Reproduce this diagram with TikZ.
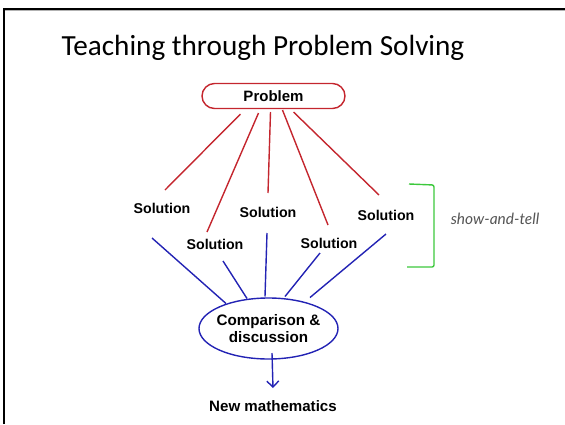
\documentclass[tikz,border=0pt]{standalone}
\usepackage{fontspec}
\setmainfont{Liberation Sans}
\newfontfamily\titlefont{Carlito}
\newfontfamily\notefont{Lato}
\usetikzlibrary{shapes.misc,shapes.geometric,calc,arrows.meta}
\definecolor{probred}{HTML}{C4262E}
\definecolor{lineblue}{HTML}{2323B4}
\definecolor{brgreen}{HTML}{3CC83C}
\definecolor{notegray}{HTML}{555555}
\tikzset{
  soltext/.style={font=\fontsize{14.2}{16}\selectfont\bfseries, inner sep=0pt},
  redline/.style={draw=probred, line width=1.4pt},
  blueline/.style={draw=lineblue, line width=1.4pt},
}
\begin{document}
\begin{tikzpicture}[x=1pt,y=-1pt]
\useasboundingbox (0,0) rectangle (565,424);
% slide border
\draw[gray!60, line width=1.2pt] (5,10.8) -- (565,10.8);
\draw[black, line width=2.4pt] (4,424) -- (4,9) -- (565,9);
% title
\node[font=\titlefont\fontsize{29.2}{32}\selectfont, inner sep=0pt] (title) at (263,48) {Teaching through Problem Solving};
% problem
\node[rounded rectangle, draw=probred, line width=1.4pt, minimum width=143pt, minimum height=25pt, inner sep=0pt, font=\fontsize{15}{17}\selectfont\bfseries] (prob) at (273.5,96) {Problem};
% solutions
\node[soltext] (s1) at (162,208) {Solution};
\node[soltext] (s2) at (215,244) {Solution};
\node[soltext] (s3) at (268,212) {Solution};
\node[soltext] (s4) at (329,243) {Solution};
\node[soltext] (s5) at (386,215) {Solution};
% ellipse
\node[inner sep=0pt, align=center, font=\fontsize{15.2}{17}\selectfont\bfseries] (ell) at (268.5,328.5) {Comparison \&\\discussion};
\draw[blueline] (ell.center) ellipse [x radius=69.5, y radius=30.5];
% new mathematics
\node[font=\fontsize{15.1}{17}\selectfont\bfseries, inner sep=0pt] (nm) at (273,406) {New mathematics};
% red lines
\draw[redline] ($(prob)+(-33,18)$) -- ($(s1)+(3,-18)$);
\draw[redline] ($(prob)+(-15,17)$) -- ($(s2)+(-8,-12)$);
\draw[redline] ($(prob)+(-3,16)$) -- ($(s3)+(0,-19)$);
\draw[redline] ($(prob)+(9,14)$) -- ($(s4)+(-1,-18)$);
\draw[redline] ($(prob)+(20,16)$) -- ($(s5)+(-7,-20)$);
% blue lines
\draw[blueline] ($(s1)+(-10,30)$) -- ($(ell)+(-42.5,-25)$);
\draw[blueline] ($(s2)+(8,17)$) -- ($(ell)+(-21.5,-30)$);
\draw[blueline] ($(s3)+(-1,21)$) -- ($(ell)+(-3.5,-32)$);
\draw[blueline] ($(s4)+(-9,10)$) -- ($(ell)+(16.5,-32)$);
\draw[blueline] ($(s5)+(0,19)$) -- ($(ell)+(41.5,-31)$);
% arrow
\draw[blueline, -{Straight Barb[length=6pt,width=12pt,line width=1.4pt]}] ($(ell)+(3.5,24.5)$) -- ($(nm)+(0,-18)$);
% bracket
\draw[brgreen, line width=1.4pt, rounded corners=2pt] (409,184) -- (434,185) -- (434,267) -- (407,267);
\node[font=\notefont\itshape\fontsize{15.5}{17}\selectfont, text=notegray, inner sep=0pt] (note) at (495,219) {show-and-tell};
\end{tikzpicture}
\end{document}
